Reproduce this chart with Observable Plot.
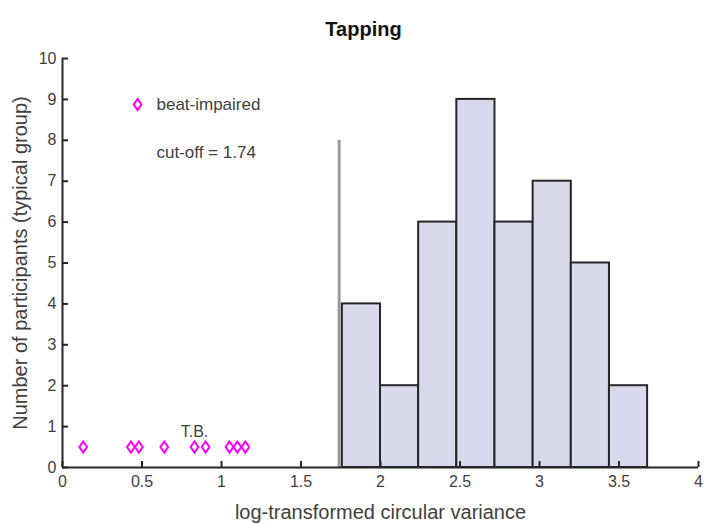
<!DOCTYPE html>
<html>
<head>
<meta charset="utf-8">
<script src="https://cdn.jsdelivr.net/npm/d3@7"></script>
<script src="https://cdn.jsdelivr.net/npm/@observablehq/plot@0.6"></script>
<style>
  html, body { margin: 0; padding: 0; background: #fff; }
  svg { font-family: "Liberation Sans", Arial, Helvetica, sans-serif; }
</style>
</head>
<body>
<div id="chart"></div>
<script>
// ---- data ----
const binEdges = [1.76, 2.00, 2.24, 2.48, 2.72, 2.96, 3.20, 3.44, 3.68];
const counts = [4, 2, 6, 9, 6, 7, 5, 2];
const impaired = [0.13, 0.43, 0.48, 0.64, 0.83, 0.90, 1.05, 1.10, 1.15];
const impairedLevel = 0.5;
const cutoff = 1.74;
const cutoffHeight = 8;
const labelTB = {name: "T.B.", x: 0.83};
const xTicks = [0, 0.5, 1, 1.5, 2, 2.5, 3, 3.5, 4];
const yTicks = [0, 1, 2, 3, 4, 5, 6, 7, 8, 9, 10];
const title = "Tapping";
const xLabel = "log-transformed circular variance";
const yLabel = "Number of participants (typical group)";
const legendLabel = "beat-impaired";
const cutoffLabel = "cut-off = 1.74";

const bins = counts.map((c, i) => ({x1: binEdges[i], x2: binEdges[i + 1], y: c}));
const tallDiamond = {
  draw(ctx, size) {
    const r = Math.sqrt(size / Math.PI);
    const w = r * 0.68;
    ctx.moveTo(0, -r); ctx.lineTo(w, 0); ctx.lineTo(0, r); ctx.lineTo(-w, 0); ctx.closePath();
  }
};
const axisColor = "#262626";
const textColor = "#404040";

const chart = Plot.plot({
  width: 706, height: 523,
  marginLeft: 62, marginRight: 8, marginTop: 58, marginBottom: 56,
  style: {fontFamily: '"Liberation Sans", Arial, Helvetica, sans-serif', background: "#fff"},
  x: {domain: [0, 4]},
  y: {domain: [0, 10]},
  marks: [
    Plot.rectY(bins, {x1: "x1", x2: "x2", y: "y", fill: "#d9d9ed", stroke: axisColor, strokeWidth: 2}),
    Plot.ruleX([cutoff], {y1: 0, y2: cutoffHeight, stroke: "#9a9a9a", strokeWidth: 3}),
    Plot.dot(impaired, {x: d => d, y: impairedLevel, r: 5.6, symbol: tallDiamond, stroke: "#ff00ff", strokeWidth: 2, fill: "none"}),
    Plot.text([labelTB], {x: "x", y: impairedLevel, text: "name", dy: -15, fontSize: 16, fill: textColor}),
    // legend
    Plot.dot([legendLabel], {x: 0.472, y: 8.875, r: 5.6, symbol: tallDiamond, stroke: "#ff00ff", strokeWidth: 2, fill: "none"}),
    Plot.text([legendLabel], {x: 0.591, y: 8.875, text: d => d, textAnchor: "start", fontSize: 17, fill: textColor}),
    Plot.text([cutoffLabel], {x: 0.591, y: 7.70, text: d => d, textAnchor: "start", fontSize: 17, fill: textColor}),
    // axes
    Plot.axisX(xTicks, {tickFormat: d => String(d), tickSize: -6, tickPadding: 14, fontSize: 16, color: textColor, stroke: axisColor, strokeWidth: 2, label: null}),
    Plot.axisY(yTicks, {tickFormat: d => String(d), tickSize: -6, tickPadding: 12, fontSize: 16, color: textColor, stroke: axisColor, strokeWidth: 2, label: null}),
    Plot.ruleX([0], {stroke: axisColor, strokeWidth: 2}),
    Plot.ruleY([0], {stroke: axisColor, strokeWidth: 2}),
    // titles
    Plot.text([title], {text: d => d, frameAnchor: "top", textAnchor: "middle", dy: -37, dx: -17, fontSize: 20, fontWeight: "bold", fill: "#111"}),
    Plot.text([xLabel], {text: d => d, frameAnchor: "bottom", textAnchor: "middle", dy: 51, fontSize: 20, fill: textColor}),
    Plot.text([yLabel], {text: d => d, frameAnchor: "left", textAnchor: "middle", dx: -42, rotate: -90, fontSize: 20, fill: textColor})
  ]
});
document.getElementById("chart").appendChild(chart);
</script>
</body>
</html>
